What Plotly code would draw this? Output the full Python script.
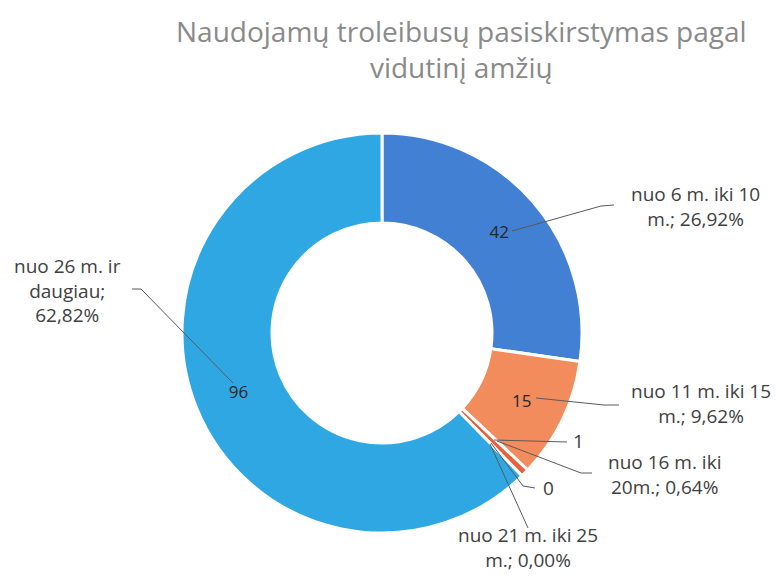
import plotly.graph_objects as go

categories = ["nuo 6 m. iki 10 m.", "nuo 11 m. iki 15 m.", "nuo 16 m. iki 20m.",
              "nuo 21 m. iki 25 m.", "nuo 26 m. ir daugiau"]
values = [42, 15, 1, 0, 96]
percent_labels = ["26,92%", "9,62%", "0,64%", "0,00%", "62,82%"]
colors = ["#4180D3", "#F28C5C", "#E8603C", "#A5A5A5", "#2FA7E2"]

title_text = "Naudojamų troleibusų pasiskirstymas pagal<br>vidutinį amžių"

W, H = 779, 576
OFF = 8  # page body margin: figure pixel = page pixel - OFF
cx, cy, R = 374, 325, 200  # in figure pixels

inside_text = [str(v) if v >= 10 else "" for v in values]

fig = go.Figure()
fig.add_trace(go.Pie(
    labels=categories, values=values, text=inside_text,
    textinfo="text", textposition="inside", insidetextorientation="horizontal",
    insidetextfont=dict(family="Open Sans", size=17, color="#262626"),
    hole=0.55, sort=False, direction="clockwise", rotation=0,
    marker=dict(colors=colors, line=dict(color="white", width=3)),
    domain=dict(x=[(cx - R) / W, (cx + R) / W], y=[(H - cy - R) / H, (H - cy + R) / H]),
    showlegend=False, hoverinfo="label+value+percent",
))

# leader lines (page pixel coordinates)
line_col = "#5a5a5a"
paths = [
    "M 512 231 L 601 206 L 614 205",
    "M 536 398 L 604 405 L 619 405",
    "M 494 440 L 567 442",
    "M 497 441 L 581 473 L 592 473",
    "M 491 443 L 523 486 L 535 488",
    "M 490 444 L 528 528",
]
paths.append("M 132 289 L 141 289 L 233 383")
for p in paths:
    fig.add_shape(type="path", path=p, xref="x", yref="y",
                  line=dict(color=line_col, width=1))

lab_font = dict(family="Open Sans", size=19, color="#404040")
outer = [
    (695, 206, f"nuo 6 m. iki 10<br>m.; {percent_labels[0]}"),
    (701, 403, f"nuo 11 m. iki 15<br>m.; {percent_labels[1]}"),
    (664, 474, f"nuo 16 m. iki<br>20m.; {percent_labels[2]}"),
    (528, 547, f"nuo 21 m. iki 25<br>m.; {percent_labels[3]}"),
    (67, 290, f"nuo 26 m. ir<br>daugiau;<br>{percent_labels[4]}"),
    (578, 441, str(values[2])),
    (548, 488, str(values[3])),
]
for x, y, t in outer:
    fig.add_annotation(x=x, y=y, xref="x", yref="y", text=t, showarrow=False,
                       font=lab_font, align="center", xanchor="center", yanchor="middle")

fig.add_annotation(x=461, y=49, xref="x", yref="y", text=title_text, showarrow=False,
                   xanchor="center", yanchor="middle", align="center",
                   font=dict(family="Open Sans", size=28, color="#8a8a8a"))

fig.update_layout(
    width=W, height=H, margin=dict(l=0, r=0, t=0, b=0),
    paper_bgcolor="white", plot_bgcolor="rgba(0,0,0,0)",
    xaxis=dict(range=[OFF, W + OFF], visible=False, fixedrange=True),
    yaxis=dict(range=[H + OFF, OFF], visible=False, fixedrange=True),
)

fig.write_html("out.html")
